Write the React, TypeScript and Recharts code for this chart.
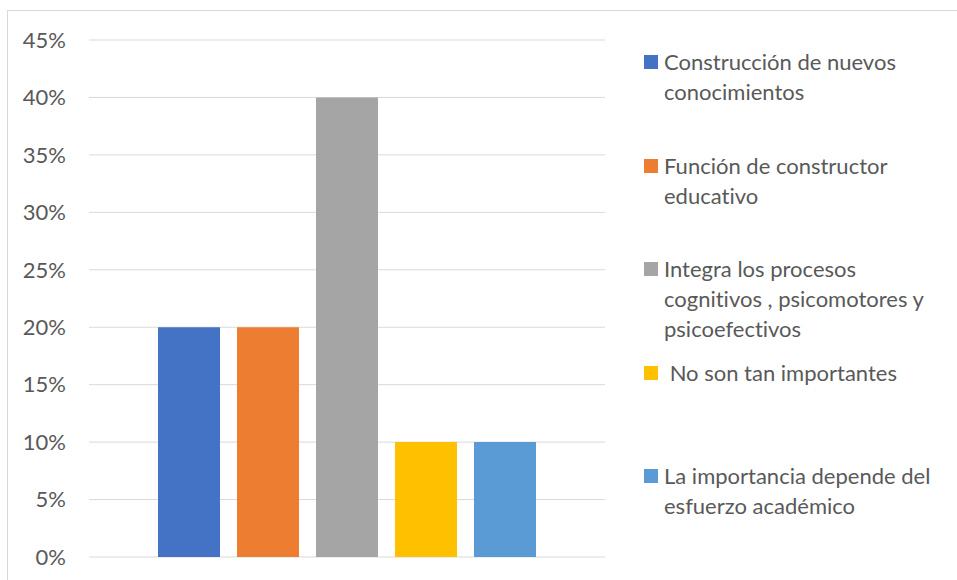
import React from 'react';
import { BarChart, Bar, XAxis, YAxis, CartesianGrid, Legend } from 'recharts';

const categories = [''];
const seriesNames = [
  'Construcción de nuevos conocimientos',
  'Función de constructor educativo',
  'Integra los procesos cognitivos , psicomotores y psicoefectivos',
  ' No son tan importantes',
  'La importancia depende del esfuerzo académico',
];
const seriesValues = [0.2, 0.2, 0.4, 0.1, 0.1];
const seriesColors = ['#4472C4', '#ED7D31', '#A5A5A5', '#FFC000', '#5B9BD5'];
const yTicks = [0, 0.05, 0.1, 0.15, 0.2, 0.25, 0.3, 0.35, 0.4, 0.45];

const data = categories.map((c) => {
  const row: Record<string, any> = { name: c };
  seriesNames.forEach((n, i) => {
    row['s' + i] = seriesValues[i];
  });
  return row;
});

const FONT = 'Lato, "Open Sans", sans-serif';
const TEXT = '#595959';

const LegendContent = (props: any) => {
  const payload = props.payload || [];
  return (
    <div style={{ position: 'relative', width: 300, height: 520 }}>
      {payload.map((p: any, i: number) => (
        <div
          key={i}
          style={{
            position: 'absolute',
            left: 0,
            top: i * 103.5,
            display: 'flex',
            alignItems: 'flex-start',
          }}
        >
          <div
            style={{
              width: 14,
              height: 14,
              marginTop: 8,
              background: p.color,
              flex: '0 0 auto',
            }}
          />
          <div
            style={{
              marginLeft: 6,
              width: 285,
              fontFamily: FONT,
              fontSize: 22,
              lineHeight: '30px',
              color: TEXT,
              whiteSpace: 'pre-wrap',
              fontVariantLigatures: 'none',
              textAlign: 'left',
            }}
          >
            {p.value}
          </div>
        </div>
      ))}
    </div>
  );
};

export default function App() {
  return (
    <div style={{ position: 'absolute', left: 0, top: 0, width: 957, height: 580, background: '#fff', overflow: 'hidden' }}>
      <div
        style={{
          position: 'absolute',
          left: 7,
          top: 10,
          width: 970,
          height: 600,
          border: '1px solid #d9d9d9',
          boxSizing: 'border-box',
        }}
      />
      <div style={{ position: 'absolute', left: 0, top: 0 }}>
        <BarChart
          width={957}
          height={580}
          data={data}
          margin={{ top: 40, right: 352, bottom: 23, left: 29 }}
          barCategoryGap={69}
          barGap={17}
        >
          <CartesianGrid vertical={false} stroke="#d9d9d9" strokeWidth={1} />
          <XAxis dataKey="name" hide />
          <YAxis
            width={60}
            domain={[0, 0.45]}
            ticks={yTicks}
            interval={0}
            axisLine={false}
            tickLine={false}
            tickSize={0}
            tickMargin={23}
            tickFormatter={(v: number) => `${Math.round(v * 100)}%`}
            tick={{ fill: TEXT, fontSize: 22, fontFamily: FONT }}
          />
          <Legend
            layout="horizontal"
            align="center"
            verticalAlign="middle"
            itemSorter={null as any}
            content={<LegendContent />}
            wrapperStyle={{ position: 'absolute', left: 644, top: 47, width: 310, height: 520 }}
          />
          {seriesNames.map((n, i) => (
            <Bar key={i} dataKey={'s' + i} name={n} fill={seriesColors[i]} isAnimationActive={false} />
          ))}
        </BarChart>
      </div>
    </div>
  );
}
